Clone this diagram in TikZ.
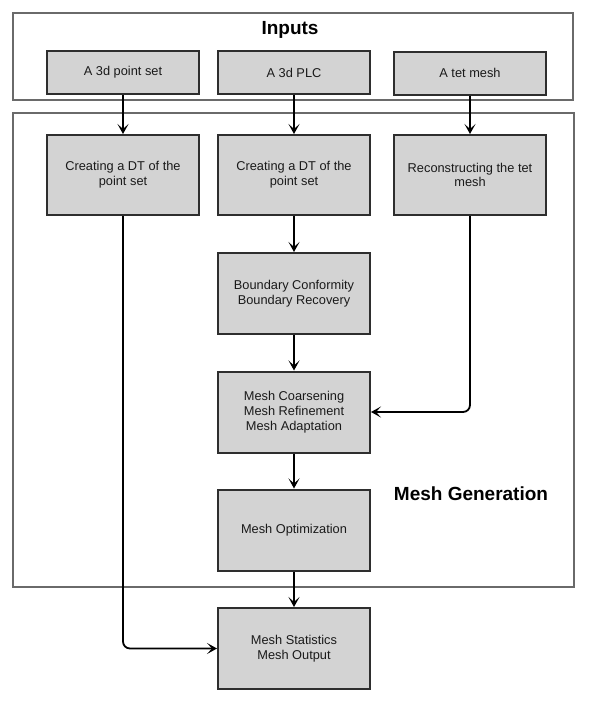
\documentclass[tikz,border=0pt]{standalone}
\usepackage{fontspec}
\setmainfont{Liberation Sans}
\usetikzlibrary{arrows.meta}
\definecolor{boxfill}{HTML}{D3D3D3}
\definecolor{boxline}{HTML}{2E2E2E}
\definecolor{groupline}{HTML}{6A6A6A}
\definecolor{txt}{HTML}{1A1A1A}
\tikzset{
  stepbox/.style={draw=boxline, line width=2pt, fill=boxfill, rectangle,
    minimum width=152pt, align=center, inner sep=2pt, text=txt,
    font=\fontsize{12.8pt}{14.7pt}\selectfont},
  inbox/.style={stepbox, minimum height=43pt},
  bigbox/.style={stepbox, minimum height=81pt},
  group/.style={draw=groupline, line width=1.4pt, rectangle, inner sep=0pt},
  title/.style={font=\bfseries\fontsize{19pt}{22pt}\selectfont, text=black},
  conn/.style={draw=black, line width=1.8pt,
    -{Stealth[length=10pt, width=11pt, inset=5pt]}},
}
\begin{document}
\begin{tikzpicture}[x=1pt, y=-1pt]
\useasboundingbox (0,0) rectangle (600,705);
% groups
\node[group, minimum width=560pt, minimum height=87pt] (inputs) at (293,56.5) {};
\node[group, minimum width=561pt, minimum height=474pt] (meshgen) at (293.5,350) {};
\node[title] (inputsT) at (290,30) {Inputs};
\node[title] (meshgenT) at (471,494) {Mesh Generation};
% input boxes
\node[inbox] (in1) at (123,72.5) {A 3d point set};
\node[inbox] (in2) at (294,72.5) {A 3d PLC};
\node[inbox] (in3) at (470,73) {A tet mesh};
% row 2
\node[bigbox, minimum height=80pt] (dt1) at (123,175) {Creating a DT of the\\point set};
\node[bigbox, minimum height=80pt] (dt2) at (294,175) {Creating a DT of the\\point set};
\node[bigbox, minimum height=80pt] (rec) at (470,175) {Reconstructing the tet\\mesh};
% column
\node[bigbox] (bound) at (294,293.5) {Boundary Conformity\\Boundary Recovery};
\node[bigbox] (coarse) at (294,412) {Mesh Coarsening\\Mesh Refinement\\Mesh Adaptation};
\node[bigbox] (opt) at (294,530) {Mesh Optimization};
\node[bigbox] (stats) at (294,648.5) {Mesh Statistics\\Mesh Output};
% connectors
\draw[conn] (in1) -- (dt1);
\draw[conn] (in2) -- (dt2);
\draw[conn] (in3) -- (rec);
\draw[conn] (dt2) -- (bound);
\draw[conn] (bound) -- (coarse);
\draw[conn] (coarse) -- (opt);
\draw[conn] (opt) -- (stats);
\draw[conn, rounded corners=7pt] (rec.south) |- (coarse.east);
\draw[conn, rounded corners=7pt] (dt1.south) |- (stats.west);
\end{tikzpicture}
\end{document}
